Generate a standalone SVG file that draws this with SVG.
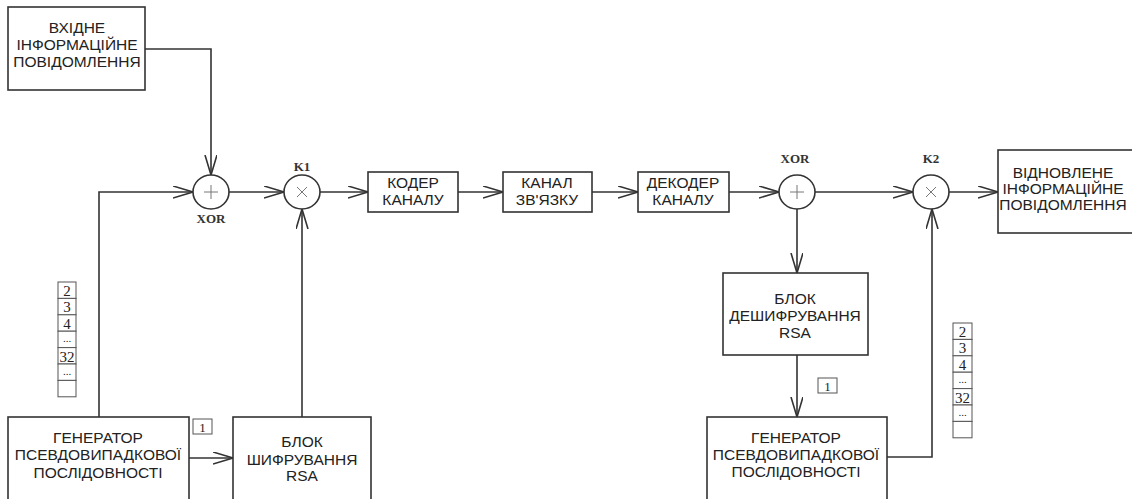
<svg xmlns="http://www.w3.org/2000/svg" width="1132" height="499" viewBox="0 0 1132 499">
<defs>
<style>
.box{fill:#fff;stroke:#333;stroke-width:1.6}
.ln{fill:none;stroke:#333;stroke-width:1.6}
.arr{marker-end:url(#ah)}
.t{font-family:"Liberation Sans",Arial,sans-serif;font-size:15.5px;fill:#222;text-anchor:middle}
.s{font-family:"Liberation Serif","Times New Roman",serif;font-size:13px;font-weight:bold;fill:#333;text-anchor:middle}
.n{font-family:"Liberation Serif","Times New Roman",serif;font-size:15px;fill:#222;text-anchor:middle}
.cell{fill:#fff;stroke:#555;stroke-width:1}
.sym{fill:none;stroke:#777;stroke-width:1}
</style>
<marker id="ah" markerUnits="userSpaceOnUse" markerWidth="22" markerHeight="14" refX="20" refY="6" orient="auto">
<path d="M0,0 L20,6 L0,12" fill="none" stroke="#333" stroke-width="1.6"/>
</marker>
</defs>
<rect width="1132" height="499" fill="#fff"/>

<g id="connectors">
<path class="ln arr" d="M145,49 H211 V175"/>
<path class="ln arr" d="M99,417 V192 H193"/>
<path class="ln arr" d="M229,192 H284"/>
<path class="ln arr" d="M320,192 H368"/>
<path class="ln arr" d="M458,192 H503"/>
<path class="ln arr" d="M592,192 H638"/>
<path class="ln arr" d="M729,192 H779"/>
<path class="ln arr" d="M815,192 H913"/>
<path class="ln arr" d="M949,192 H998"/>
<path class="ln arr" d="M797,209 V273"/>
<path class="ln arr" d="M797,355 V417"/>
<path class="ln arr" d="M887,457 H932 V209"/>
<path class="ln arr" d="M189,458 H233"/>
<path class="ln arr" d="M302,417 V209"/>
</g>

<g id="input">
<rect class="box" x="8" y="7" width="137" height="83"/>
<text class="t" x="77" y="33">ВХІДНЕ</text>
<text class="t" x="77" y="50">ІНФОРМАЦІЙНЕ</text>
<text class="t" x="77" y="67">ПОВІДОМЛЕННЯ</text>
</g>

<g id="xor1">
<ellipse class="box" cx="211" cy="192" rx="18" ry="17"/>
<path class="sym" d="M204,192 H218 M211,185 V199"/>
<text class="s" x="211" y="223">XOR</text>
</g>

<g id="k1">
<ellipse class="box" cx="302" cy="192" rx="18" ry="17"/>
<path class="sym" d="M297,187 L307,197 M307,187 L297,197"/>
<text class="s" x="302" y="171">K1</text>
</g>

<g id="coder">
<rect class="box" x="368" y="172" width="90" height="40"/>
<text class="t" x="413" y="188">КОДЕР</text>
<text class="t" x="413" y="205">КАНАЛУ</text>
</g>

<g id="channel">
<rect class="box" x="503" y="172" width="89" height="40"/>
<text class="t" x="547" y="188">КАНАЛ</text>
<text class="t" x="547" y="205">ЗВ'ЯЗКУ</text>
</g>

<g id="decoder">
<rect class="box" x="638" y="172" width="91" height="40"/>
<text class="t" x="683" y="188">ДЕКОДЕР</text>
<text class="t" x="683" y="205">КАНАЛУ</text>
</g>

<g id="xor2">
<ellipse class="box" cx="797" cy="192" rx="18" ry="17"/>
<path class="sym" d="M790,192 H804 M797,185 V199"/>
<text class="s" x="795" y="163">XOR</text>
</g>

<g id="k2">
<ellipse class="box" cx="931" cy="192" rx="18" ry="17"/>
<path class="sym" d="M926,187 L936,197 M936,187 L926,197"/>
<text class="s" x="931" y="163">K2</text>
</g>

<g id="output">
<rect class="box" x="998" y="150" width="140" height="83"/>
<text class="t" x="1063" y="178">ВІДНОВЛЕНЕ</text>
<text class="t" x="1063" y="194">ІНФОРМАЦІЙНЕ</text>
<text class="t" x="1063" y="210">ПОВІДОМЛЕННЯ</text>
</g>

<g id="decrypt">
<rect class="box" x="723" y="273" width="145" height="82"/>
<text class="t" x="795" y="304">БЛОК</text>
<text class="t" x="795" y="321">ДЕШИФРУВАННЯ</text>
<text class="t" x="795" y="338">RSA</text>
</g>

<g id="generator2">
<rect class="box" x="707" y="417" width="180" height="95"/>
<text class="t" x="796" y="443">ГЕНЕРАТОР</text>
<text class="t" x="796" y="460">ПСЕВДОВИПАДКОВОЇ</text>
<text class="t" x="796" y="477">ПОСЛІДОВНОСТІ</text>
</g>

<g id="generator1">
<rect class="box" x="8" y="417" width="181" height="95"/>
<text class="t" x="98" y="443">ГЕНЕРАТОР</text>
<text class="t" x="98" y="460">ПСЕВДОВИПАДКОВОЇ</text>
<text class="t" x="98" y="478">ПОСЛІДОВНОСТІ</text>
</g>

<g id="encrypt">
<rect class="box" x="233" y="417" width="138" height="95"/>
<text class="t" x="302" y="447">БЛОК</text>
<text class="t" x="302" y="465">ШИФРУВАННЯ</text>
<text class="t" x="302" y="481">RSA</text>
</g>

<g id="label1-left">
<rect class="cell" x="193" y="419" width="19" height="15"/>
<text class="n" x="202.5" y="432" style="font-size:13px">1</text>
</g>

<g id="label1-right">
<rect class="cell" x="818" y="378" width="19" height="15"/>
<text class="n" x="827.5" y="391" style="font-size:13px">1</text>
</g>

<g id="stack-left">
<rect class="cell" x="58" y="282" width="18" height="16.4"/>
<rect class="cell" x="58" y="298.4" width="18" height="16.4"/>
<rect class="cell" x="58" y="314.8" width="18" height="16.4"/>
<rect class="cell" x="58" y="331.2" width="18" height="16.4"/>
<rect class="cell" x="58" y="347.6" width="18" height="16.4"/>
<rect class="cell" x="58" y="364" width="18" height="16.4"/>
<rect class="cell" x="58" y="380.4" width="18" height="16.4"/>
<text class="n" x="67" y="296">2</text>
<text class="n" x="67" y="312">3</text>
<text class="n" x="67" y="329">4</text>
<text class="n" x="67" y="342" style="font-size:11px">...</text>
<text class="n" x="67" y="362">32</text>
<text class="n" x="67" y="375" style="font-size:11px">...</text>
</g>

<g id="stack-right">
<rect class="cell" x="953" y="323" width="19" height="16.4"/>
<rect class="cell" x="953" y="339.4" width="19" height="16.4"/>
<rect class="cell" x="953" y="355.8" width="19" height="16.4"/>
<rect class="cell" x="953" y="372.2" width="19" height="16.4"/>
<rect class="cell" x="953" y="388.6" width="19" height="16.4"/>
<rect class="cell" x="953" y="405" width="19" height="16.4"/>
<rect class="cell" x="953" y="421.4" width="19" height="16.4"/>
<text class="n" x="962.5" y="337">2</text>
<text class="n" x="962.5" y="353">3</text>
<text class="n" x="962.5" y="370">4</text>
<text class="n" x="962.5" y="383" style="font-size:11px">...</text>
<text class="n" x="962.5" y="403">32</text>
<text class="n" x="962.5" y="416" style="font-size:11px">...</text>
</g>
</svg>
